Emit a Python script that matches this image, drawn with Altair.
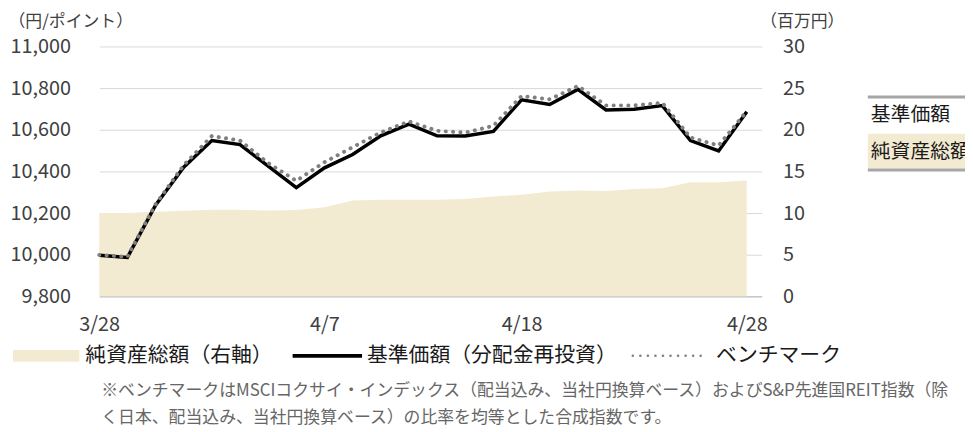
import altair as alt
import pandas as pd

FONT = "Noto Sans CJK JP"

dates = ["3/28", "3/29", "3/30", "3/31", "4/3", "4/4", "4/5", "4/6", "4/7",
         "4/10", "4/11", "4/12", "4/13", "4/14", "4/17", "4/18", "4/19",
         "4/20", "4/21", "4/24", "4/25", "4/26", "4/27", "4/28"]
nav = [9997, 9987, 10238, 10420, 10548, 10529, 10425, 10322, 10417, 10481,
       10571, 10627, 10571, 10570, 10592, 10744, 10721, 10794, 10695, 10698,
       10716, 10548, 10498, 10687]
bench = [9999, 9990, 10242, 10430, 10570, 10548, 10440, 10355, 10444, 10516,
         10587, 10640, 10595, 10586, 10619, 10762, 10746, 10810, 10717, 10717,
         10729, 10563, 10524, 10690]
assets = [10.0, 10.0, 10.15, 10.28, 10.4, 10.4, 10.3, 10.36, 10.7, 11.5,
          11.6, 11.6, 11.6, 11.7, 12.0, 12.2, 12.6, 12.7, 12.65, 12.9,
          12.98, 13.7, 13.7, 13.9]

left_ticks = [9800, 10000, 10200, 10400, 10600, 10800, 11000]
right_ticks = [0, 5, 10, 15, 20, 25, 30]
x_label_dates = ["3/28", "4/7", "4/18", "4/28"]

left_title = "（円/ポイント）"
right_title = "（百万円）"
legend_labels = ["純資産総額（右軸）", "基準価額（分配金再投資）", "ベンチマーク"]
footnotes = [
    "※ベンチマークはMSCIコクサイ・インデックス（配当込み、当社円換算ベース）およびS&P先進国REIT指数（除",
    "く日本、配当込み、当社円換算ベース）の比率を均等とした合成指数です。",
]
box_labels = ["基準価額", "純資産総額"]

AREA_COLOR = "#F3EBD1"
BENCH_COLOR = "#808080"
TEXT_COLOR = "#404040"

df = pd.DataFrame({"idx": list(range(len(dates))), "date": dates,
                   "nav": nav, "bench": bench, "assets": assets})
one = pd.DataFrame({"k": [0]})

x_values = [dates.index(d) for d in x_label_dates]
label_expr = "[" + ",".join(f"'{d}'" for d in dates) + "][datum.value]"

x_enc = alt.X(
    "idx:Q",
    scale=alt.Scale(domain=[0, 23.53], nice=False, zero=False),
    axis=alt.Axis(values=x_values, labelExpr=label_expr, labelFlush=False,
                  grid=False, ticks=False,
                  domain=True, domainColor="#c8c8c8", domainWidth=1.5,
                  labelPadding=18, labelFontSize=20, labelColor=TEXT_COLOR,
                  labelFont=FONT, title=None),
)

left_axis = alt.Axis(orient="left", values=left_ticks,
                     labelExpr="format(datum.value, ',')", grid=True,
                     gridColor="#d9d9d9", gridWidth=1, ticks=False, domain=False,
                     labelPadding=29, labelFontSize=20, labelColor=TEXT_COLOR,
                     labelFont=FONT, title=left_title, titleAngle=0,
                     titleAlign="left", titleBaseline="middle", titleX=-92,
                     titleY=-25, titleFontSize=17, titleFontWeight="normal",
                     titleColor=TEXT_COLOR, titleFont=FONT)

right_axis = alt.Axis(orient="right", values=right_ticks, grid=False, ticks=False,
                      domain=False, labelAlign="left", labelPadding=21,
                      labelFontSize=20, labelColor=TEXT_COLOR, labelFont=FONT,
                      title=right_title, titleAngle=0, titleAlign="left",
                      titleBaseline="middle", titleX=-2, titleY=-25,
                      titleFontSize=17, titleFontWeight="normal",
                      titleColor=TEXT_COLOR, titleFont=FONT)

base = alt.Chart(df)

area = base.mark_area(color=AREA_COLOR).encode(
    x=x_enc,
    y=alt.Y("assets:Q", scale=alt.Scale(domain=[0, 30], nice=False), axis=right_axis),
)

left_scale = alt.Scale(domain=[9800, 11000], nice=False, zero=False)
nav_line = base.mark_line(color="black", strokeWidth=3.5, strokeJoin="miter").encode(
    x=x_enc, y=alt.Y("nav:Q", scale=left_scale, axis=left_axis)
)
bench_line = base.mark_line(color=BENCH_COLOR, strokeWidth=4,
                            strokeDash=[0.1, 7.3], strokeCap="round").encode(
    x=x_enc, y=alt.Y("bench:Q", scale=left_scale, axis=left_axis)
)


def txt(s, x, y, size, color, align="left"):
    return alt.Chart(one).mark_text(text=s, align=align, baseline="middle",
                                    fontSize=size, color=color, font=FONT).encode(
        x=alt.value(x), y=alt.value(y))


def rect(x1, x2, y1, y2, color):
    return alt.Chart(one).mark_rect(color=color).encode(
        x=alt.value(x1), x2=alt.value(x2), y=alt.value(y1), y2=alt.value(y2))


def rule(x1, x2, y, color, width, dash=None, cap="butt"):
    kw = dict(color=color, strokeWidth=width, strokeCap=cap)
    if dash is not None:
        kw["strokeDash"] = dash
    return alt.Chart(one).mark_rule(**kw).encode(
        x=alt.value(x1), x2=alt.value(x2), y=alt.value(y))


LEG_Y = 312
LEG_COLOR = "#1a1a1a"
decor = [
    rect(-87, -20, 306, 318, AREA_COLOR),
    txt(legend_labels[0], -14, LEG_Y, 21, LEG_COLOR),
    rule(195, 265, LEG_Y, "black", 4),
    txt(legend_labels[1], 270, LEG_Y, 21, LEG_COLOR),
    rule(538, 614, LEG_Y, BENCH_COLOR, 2.5, dash=[0.1, 7.5], cap="round"),
    txt(legend_labels[2], 622, LEG_Y, 21, LEG_COLOR),
    txt(footnotes[0], 2, 347, 17, "#666666"),
    txt(footnotes[1], 2, 375, 17, "#666666"),
    rect(775, 885, 88, 123, AREA_COLOR),
    rule(775, 885, 51, "#a6a6a6", 3),
    rule(775, 885, 124.5, "#a6a6a6", 3),
    txt(box_labels[0], 778, 69, 20, LEG_COLOR),
    txt(box_labels[1], 778, 106, 20, LEG_COLOR),
]

chart = alt.layer(area, alt.layer(nav_line, bench_line), *decor).resolve_scale(
    y="independent"
).properties(
    width=668, height=252,
    autosize=alt.AutoSizeParams(type="none"),
    padding={"left": 92, "top": 37, "right": 205, "bottom": 135},
).configure_view(stroke=None)

chart.save("out.html", embed_options={"renderer": "svg", "actions": False})
